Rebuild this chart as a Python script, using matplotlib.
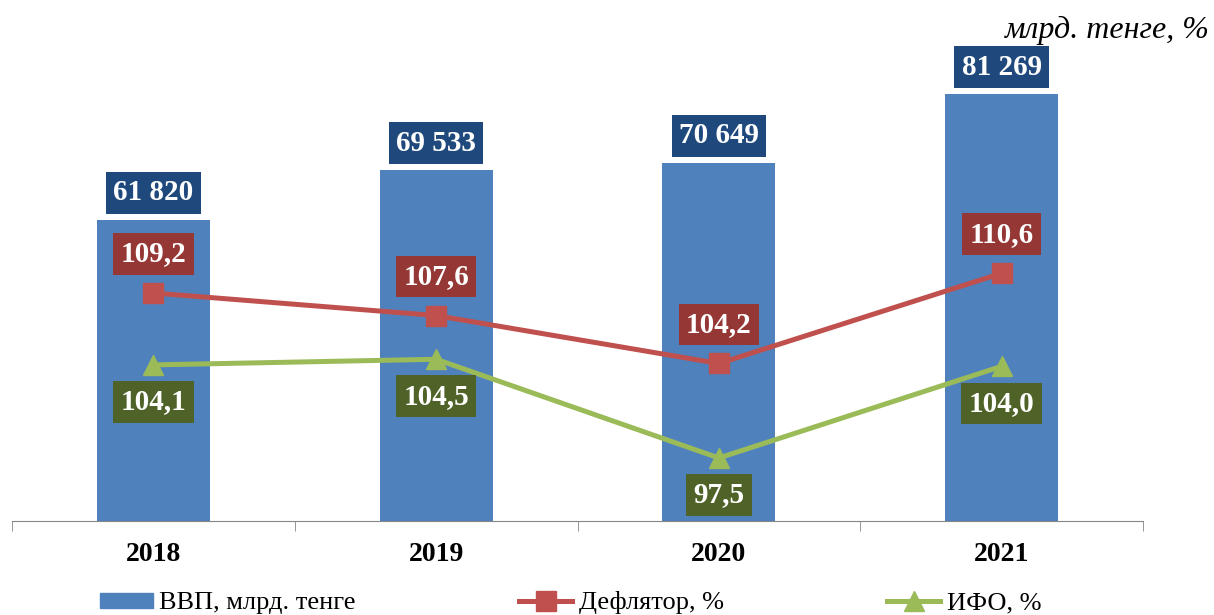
import matplotlib
matplotlib.use("Agg")
import matplotlib.pyplot as plt
from matplotlib.patches import Patch
from matplotlib.lines import Line2D

plt.rcParams['font.family'] = ['Liberation Serif', 'DejaVu Serif']

years = ['2018', '2019', '2020', '2021']
gdp = [61820, 69533, 70649, 81269]
deflator = [109.2, 107.6, 104.2, 110.6]
ifo = [104.1, 104.5, 97.5, 104.0]

gdp_labels = ['61 820', '69 533', '70 649', '81 269']
deflator_labels = ['109,2', '107,6', '104,2', '110,6']
ifo_labels = ['104,1', '104,5', '97,5', '104,0']

c_bar = '#4F81BD'
c_red = '#C0504D'
c_green = '#9BBB59'

fig = plt.figure(figsize=(12.14, 6.15), dpi=100)
ax = fig.add_axes([12 / 1214, 94 / 615, 1131 / 1214, 491 / 615])
x = list(range(len(years)))

ax.bar(x, gdp, width=0.4, color=c_bar, zorder=2)
ax.set_xlim(-0.5, 3.5)
ax.set_ylim(15355, 91150)
ax.set_yticks([])
for s in ['top', 'right', 'left']:
    ax.spines[s].set_visible(False)
ax.spines['bottom'].set_color('#868686')
ax.set_xticks(x)
ax.set_xticklabels(years, fontsize=20, fontweight='bold')
ax.tick_params(axis='x', which='major', length=0, pad=15)
ax.set_xticks([-0.5, 0.5, 1.5, 2.5, 3.5], minor=True)
ax.tick_params(axis='x', which='minor', length=7, color='#868686', direction='out')

box = dict(boxstyle='square,pad=0.25', ec='none')
for xi, v, lab in zip(x, gdp, gdp_labels):
    ax.annotate(lab, (xi, v), xytext=(0, 27), textcoords='offset pixels',
                ha='center', va='center', color='white', fontsize=21, fontweight='bold',
                bbox=dict(box, fc='#1F497D'), zorder=5)

ax2 = ax.twinx()
ax2.set_ylim(93.03, 127.85)
ax2.axis('off')
ax2.plot(x, deflator, color=c_red, lw=3.6, marker='s', markersize=14, zorder=3)
ax2.plot(x, ifo, color=c_green, lw=3.6, marker='^', markersize=15, zorder=3)

for xi, v, lab in zip(x, deflator, deflator_labels):
    ax2.annotate(lab, (xi, v), xytext=(0, 39), textcoords='offset pixels',
                 ha='center', va='center', color='white', fontsize=21, fontweight='bold',
                 bbox=dict(box, fc='#953735'), zorder=5)
for xi, v, lab in zip(x, ifo, ifo_labels):
    ax2.annotate(lab, (xi, v), xytext=(0, -37), textcoords='offset pixels',
                 ha='center', va='center', color='white', fontsize=21, fontweight='bold',
                 bbox=dict(box, fc='#4F6228'), zorder=5)

fig.text(1210 / 1214, 1 - 30 / 615, 'млрд. тенге, %', ha='right', va='center',
         fontsize=23, style='italic')

handles = [Patch(color=c_bar),
           Line2D([], [], color=c_red, lw=3.6, marker='s', markersize=14),
           Line2D([], [], color=c_green, lw=3.6, marker='^', markersize=15)]
names = ['ВВП, млрд. тенге', 'Дефлятор, %', 'ИФО, %']
fig.legend(handles, names, loc='center left', bbox_to_anchor=(100 / 1214, 1 - 603 / 615),
           ncol=3, frameon=False, fontsize=19, handlelength=2.0, handleheight=0.5,
           columnspacing=6.2, handletextpad=0.25, borderpad=0, borderaxespad=0)

fig.savefig('out.png', dpi=100)
